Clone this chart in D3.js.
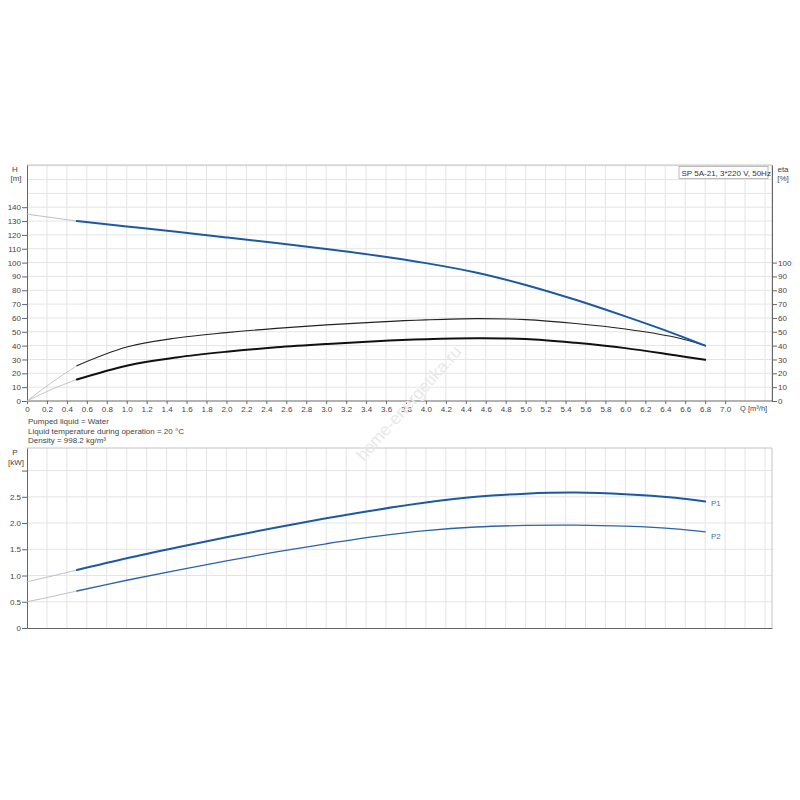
<!DOCTYPE html>
<html>
<head>
<meta charset="utf-8">
<script src="https://cdn.jsdelivr.net/npm/d3@7"></script>
<style>
body{margin:0;background:#fff;}
text{font-family:"Liberation Sans",Arial,sans-serif;}
</style>
</head>
<body>
<div id="chart"></div>
<script>
// debit Q [m3/h] et valeurs
var debit   = [0.5, 1.0, 1.5, 2.0, 2.5, 3.0, 3.5, 4.0, 4.5, 5.0, 5.5, 6.0, 6.5, 6.8];
var hauteur = [130, 126.1, 122.2, 118.2, 114.1, 109.8, 105.1, 99.6, 92.85, 83.85, 73.1, 61.1, 48.35, 40];
var eta1    = [25.5, 39, 45.5, 49.4, 52.5, 55, 57, 58.6, 59.5, 58.8, 56, 52, 46, 40];
var eta2    = [15.5, 25.5, 31.5, 35.6, 38.8, 41.2, 43.2, 44.6, 45.3, 44.8, 42, 38.2, 33, 29.8];
var p1      = [1.105, 1.33, 1.535, 1.73, 1.915, 2.09, 2.25, 2.39, 2.50, 2.56, 2.58, 2.55, 2.48, 2.41];
var p2      = [0.705, 0.91, 1.10, 1.28, 1.45, 1.605, 1.745, 1.855, 1.925, 1.955, 1.96, 1.94, 1.89, 1.83];

// prolongement (hors plage) vers Q=0
var debitExt = [0, 0.25, 0.5];
var hauteurExt = [135, 132.5, 130];
var eta1Ext = [0, 13.5, 25.5];
var eta2Ext = [0, 8.5, 15.5];
var p1Ext = [0.88, 0.99, 1.105];
var p2Ext = [0.5, 0.6, 0.705];

var qTicks = d3.range(0, 36).map(function(i){ return i * 0.2; });
var qGrid = d3.range(1, 38).map(function(i){ return i * 0.2; });
var hTicks = d3.range(0, 150, 10);
var hGrid = d3.range(10, 171, 10);
var etaTicks = d3.range(0, 110, 10);
var pTicks = [0, 0.5, 1.0, 1.5, 2.0, 2.5, 3.0];
var infos = ["Pumped liquid = Water", "Liquid temperature during operation = 20 °C", "Density = 998.2 kg/m³"];

var svg = d3.select("#chart").append("svg").attr("width", 800).attr("height", 800);
svg.append("rect").attr("width", 800).attr("height", 800).attr("fill", "#fff");

var x = d3.scaleLinear().domain([0, 7.47]).range([27, 772]);
var yH = d3.scaleLinear().domain([0, 170.5]).range([401, 165]);
var yP = d3.scaleLinear().domain([0, 3.43]).range([628, 448]);

var gridColor = "#e4e4e4", axisColor = "#666", txtColor = "#444";
var blue = "#1d59a3", extColor = "#b4bccb";

function fmt(d){ return d === 0 ? "0" : d3.format(".1f")(d); }

// grilles
function drawGrid(yScale, yVals, top, bottom){
  var g = svg.append("g").attr("stroke", gridColor).attr("stroke-width", 1);
  qGrid.forEach(function(q){
    g.append("line").attr("x1", x(q)).attr("x2", x(q)).attr("y1", top).attr("y2", bottom);
  });
  yVals.forEach(function(v){
    g.append("line").attr("x1", x(0)).attr("x2", 772).attr("y1", yScale(v)).attr("y2", yScale(v));
  });
  svg.append("path").attr("fill", "none").attr("stroke", "#c4c4c4")
     .attr("d", "M" + x(0) + "," + top + "H772V" + bottom);
}
drawGrid(yH, hGrid, 165, 401);
drawGrid(yP, [0.5, 1.0, 1.5, 2.0, 2.5, 3.0], 448, 628);

// axes du haut
var axH = svg.append("g").attr("transform", "translate(" + x(0) + ",0)")
  .call(d3.axisLeft(yH).tickValues(hTicks).tickSize(5).tickSizeOuter(0).tickFormat(d3.format("d")));
var axEta = svg.append("g").attr("transform", "translate(772,0)")
  .call(d3.axisRight(yH).tickValues(etaTicks).tickSize(5).tickSizeOuter(0).tickFormat(d3.format("d")));
var axQ = svg.append("g").attr("transform", "translate(0,401)")
  .call(d3.axisBottom(x).tickValues(qTicks).tickSize(3).tickSizeOuter(0).tickFormat(fmt));
var axP = svg.append("g").attr("transform", "translate(" + x(0) + ",0)")
  .call(d3.axisLeft(yP).tickValues(pTicks).tickSize(5).tickSizeOuter(0)
  .tickFormat(function(d){ return d === 3.0 ? "" : fmt(d); }));
var axQ2 = svg.append("g").attr("transform", "translate(0,628)")
  .call(d3.axisBottom(x).tickValues([]).tickSizeOuter(0));

[axH, axEta, axQ, axP, axQ2].forEach(function(a){
  a.select(".domain").attr("stroke", axisColor);
  a.selectAll(".tick line").attr("stroke", axisColor);
  a.selectAll(".tick text").attr("fill", txtColor).style("font-size", "8px")
    .style("font-family", "'Liberation Sans',Arial,sans-serif");
});
axH.selectAll(".tick text").attr("x", -6);
axP.selectAll(".tick text").attr("x", -6);
axEta.selectAll(".tick text").attr("x", 6);
axQ.selectAll(".tick text").attr("y", 5);
axQ.select(".domain").attr("d", "M" + x(0) + ",0H772");

// titres des axes
var labels = svg.append("g").attr("fill", txtColor).style("font-size", "8px").attr("text-anchor", "middle");
labels.append("text").attr("x", 15).attr("y", 172).text("H");
labels.append("text").attr("x", 16).attr("y", 181).text("[m]");
labels.append("text").attr("x", 783).attr("y", 172).text("eta");
labels.append("text").attr("x", 783).attr("y", 181).text("[%]");
labels.append("text").attr("x", 15).attr("y", 455).text("P");
labels.append("text").attr("x", 16).attr("y", 465).text("[kW]");
labels.append("text").attr("x", x(7.15)).attr("y", 411).attr("text-anchor", "start")
  .style("font-size", "7.5px").text("Q [m³/h]");

// cadre de légende
svg.append("rect").attr("x", 679).attr("y", 166.5).attr("width", 89).attr("height", 12)
   .attr("fill", "#fff").attr("stroke", "#aaa").attr("stroke-width", 0.8);
svg.append("text").attr("x", 681.5).attr("y", 175.5).attr("fill", "#333").style("font-size", "8px")
   .text("SP 5A-21, 3*220 V, 50Hz");

// texte d'information
svg.append("g").attr("fill", txtColor).style("font-size", "8px").selectAll("text")
  .data(infos).join("text")
  .attr("x", 28).attr("y", function(d, i){ return 424 + i * 9.5; })
  .text(function(d){ return d; });

// filigrane
svg.append("text").attr("transform", "translate(413,407) rotate(-48)")
   .attr("text-anchor", "middle").attr("fill", "#e8e8e8").style("font-size", "17px")
   .text("home-energetika.ru");

// courbes
function courbe(qs, vals, yScale, color, w){
  var line = d3.line().x(function(d){ return x(d[0]); }).y(function(d){ return yScale(d[1]); })
    .curve(d3.curveCatmullRom.alpha(0.5));
  svg.append("path").datum(d3.zip(qs, vals)).attr("fill", "none")
    .attr("stroke", color).attr("stroke-width", w).attr("stroke-linecap", "round")
    .attr("d", line);
}
courbe(debitExt, hauteurExt, yH, extColor, 1);
courbe(debitExt, eta1Ext, yH, "#c0c0c0", 1);
courbe(debitExt, eta2Ext, yH, "#c0c0c0", 1);
courbe(debitExt, p1Ext, yP, extColor, 1);
courbe(debitExt, p2Ext, yP, extColor, 1);

courbe(debit, eta1, yH, "#222", 1.1);
courbe(debit, eta2, yH, "#111", 2);
courbe(debit, hauteur, yH, blue, 2);
courbe(debit, p1, yP, blue, 2);
courbe(debit, p2, yP, "#2b63aa", 1.3);

svg.append("g").attr("fill", "#3d6fb0").style("font-size", "8px").selectAll("text")
  .data([["P1", p1[p1.length - 1] - 0.02], ["P2", p2[p2.length - 1] - 0.07]]).join("text")
  .attr("x", 711).attr("y", function(d){ return yP(d[1]) + 3; })
  .text(function(d){ return d[0]; });
</script>
</body>
</html>
